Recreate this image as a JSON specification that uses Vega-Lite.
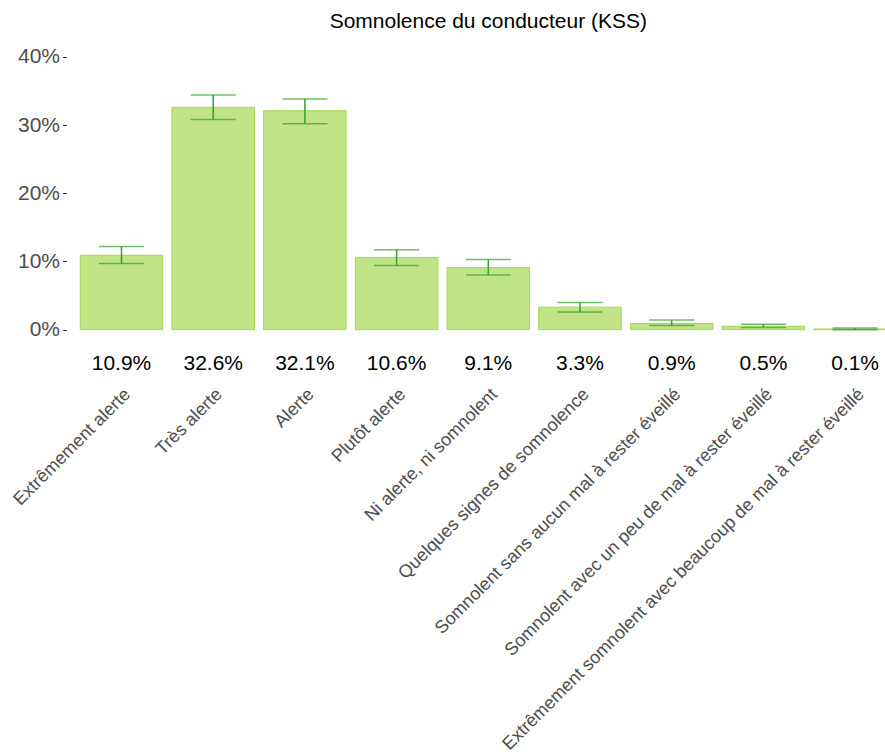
{
  "$schema": "https://vega.github.io/schema/vega-lite/v6.json",
  "autosize": {"type": "none"},
  "width": 843.6,
  "height": 324,
  "padding": {"left": 66.5, "top": 50, "right": 0, "bottom": 379},
  "background": "white",
  "config": {
    "font": "Liberation Sans",
    "view": {"stroke": null},
    "axis": {"grid": false, "domain": false}
  },
  "title": {
    "text": "Somnolence du conducteur (KSS)",
    "fontSize": 21,
    "fontWeight": "normal",
    "color": "#000000",
    "anchor": "middle",
    "offset": 14
  },
  "data": {
    "values": [
      {"cat": "Extrêmement alerte", "pct": 0.109, "lo": 0.097, "hi": 0.122},
      {"cat": "Très alerte", "pct": 0.326, "lo": 0.308, "hi": 0.344},
      {"cat": "Alerte", "pct": 0.321, "lo": 0.302, "hi": 0.338},
      {"cat": "Plutôt alerte", "pct": 0.106, "lo": 0.094, "hi": 0.117},
      {"cat": "Ni alerte, ni somnolent", "pct": 0.091, "lo": 0.080, "hi": 0.103},
      {"cat": "Quelques signes de somnolence", "pct": 0.033, "lo": 0.026, "hi": 0.040},
      {"cat": "Somnolent sans aucun mal à rester éveillé", "pct": 0.009, "lo": 0.006, "hi": 0.014},
      {"cat": "Somnolent avec un peu de mal à rester éveillé", "pct": 0.005, "lo": 0.003, "hi": 0.008},
      {"cat": "Extrêmement somnolent avec beaucoup de mal à rester éveillé", "pct": 0.001, "lo": 0.0, "hi": 0.0025}
    ]
  },
  "encoding": {
    "x": {
      "field": "cat",
      "type": "nominal",
      "sort": null,
      "title": null,
      "scale": {"paddingInner": 0.1, "paddingOuter": 0.15},
      "axis": {
        "labelAngle": -45,
        "labelAlign": "right",
        "labelBaseline": "top",
        "labelFontSize": 18,
        "labelColor": "#4d4d4d",
        "labelPadding": 11,
        "ticks": false,
        "labelLimit": 2000,
        "labelOverlap": false,
        "labelBound": false
      }
    }
  },
  "layer": [
    {
      "mark": {"type": "bar", "fill": "#a6d854", "fillOpacity": 0.7, "stroke": "#a6d854", "strokeWidth": 1},
      "encoding": {
        "y": {
          "field": "pct",
          "type": "quantitative",
          "title": null,
          "scale": {"domain": [-0.065, 0.41], "nice": false, "zero": false},
          "axis": {
            "values": [0, 0.1, 0.2, 0.3, 0.4],
            "format": ".0%",
            "labelFontSize": 21,
            "labelColor": "#4d4d4d",
            "tickColor": "#333333",
            "tickSize": 4,
            "labelPadding": 3
          }
        }
      }
    },
    {
      "mark": {"type": "rule", "color": "#33a02c", "strokeWidth": 1.5},
      "encoding": {
        "y": {"field": "lo", "type": "quantitative"},
        "y2": {"field": "hi"}
      }
    },
    {
      "mark": {"type": "tick", "color": "#33a02c", "thickness": 1.5, "size": 45, "orient": "horizontal"},
      "encoding": {"y": {"field": "lo", "type": "quantitative"}}
    },
    {
      "mark": {"type": "tick", "color": "#33a02c", "thickness": 1.5, "size": 45, "orient": "horizontal"},
      "encoding": {"y": {"field": "hi", "type": "quantitative"}}
    },
    {
      "mark": {"type": "text", "fontSize": 21, "color": "#000000", "baseline": "middle"},
      "encoding": {
        "y": {"datum": -0.05},
        "text": {"field": "pct", "type": "quantitative", "format": ".1%"}
      }
    }
  ]
}
